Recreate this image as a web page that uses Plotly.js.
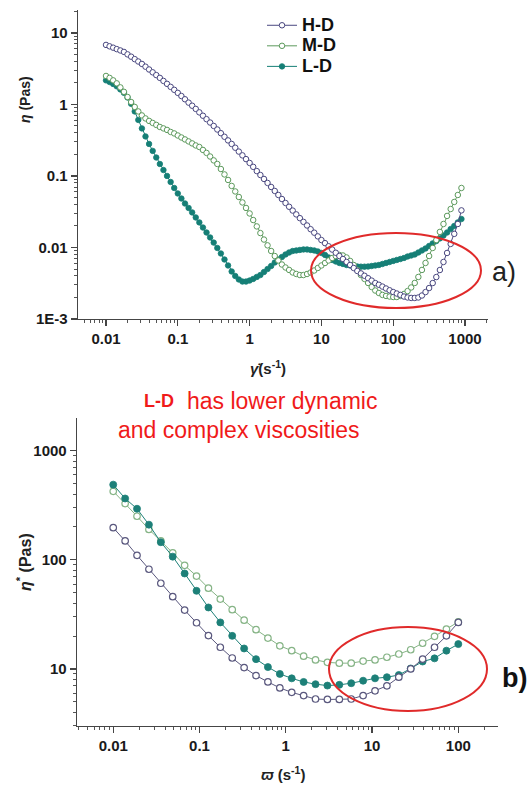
<!DOCTYPE html>
<html>
<head>
<meta charset="utf-8">
<script src="https://cdn.plot.ly/plotly-3.0.1.min.js"></script>
<style>html,body{margin:0;padding:0;background:#fff;}#chart{width:527px;height:785px;}</style>
</head>
<body>
<div id="chart"></div>
<script>
// ---------- Panel a) steady shear viscosity ----------
const shearRate = [0.01,0.01122,0.01259,0.01413,0.01585,0.01778,0.01995,0.02239,0.02512,0.02818,
0.03162,0.03548,0.03981,0.04467,0.05012,0.05623,0.0631,0.07079,0.07943,0.08913,
0.1,0.1122,0.1259,0.1413,0.1585,0.1778,0.1995,0.2239,0.2512,0.2818,
0.3162,0.3548,0.3981,0.4467,0.5012,0.5623,0.631,0.7079,0.7943,0.8913,
1,1.122,1.259,1.413,1.585,1.778,1.995,2.239,2.512,2.818,
3.162,3.548,3.981,4.467,5.012,5.623,6.31,7.079,7.943,8.913,
10,11.22,12.59,14.13,15.85,17.78,19.95,22.39,25.12,28.18,
31.62,35.48,39.81,44.67,50.12,56.23,63.1,70.79,79.43,89.13,
100,112.2,125.9,141.3,158.5,177.8,199.5,223.9,251.2,281.8,
316.2,354.8,398.1,446.7,501.2,562.3,631,707.9,794.3,891.3];

const etaHD = [6.79,6.49,6.21,5.93,5.68,5.42,5.01,4.65,4.30,3.98,
3.68,3.37,3.08,2.81,2.57,2.35,2.13,1.94,1.76,1.60,
1.45,1.31,1.18,1.06,0.959,0.865,0.774,0.695,0.622,0.558,
0.500,0.446,0.396,0.353,0.314,0.280,0.248,0.219,0.194,0.172,
0.152,0.134,0.117,0.103,0.0908,0.0798,0.0701,0.0617,0.0542,0.0476,
0.0419,0.0371,0.0328,0.0290,0.0257,0.0228,0.0203,0.0180,0.0161,0.0143,
0.0127,0.0115,0.0104,0.00935,0.00843,0.00760,0.00690,0.00627,0.00569,0.00516,
0.00469,0.00434,0.00402,0.00372,0.00344,0.00318,0.00301,0.00284,0.00267,0.00252,
0.00238,0.00227,0.00217,0.00206,0.00200,0.00197,0.00197,0.00200,0.00213,0.00238,
0.00271,0.00318,0.00386,0.00484,0.00627,0.00838,0.0112,0.0155,0.0213,0.0330];

const etaMD = [2.50,2.35,2.17,1.97,1.73,1.50,1.27,1.08,0.923,0.798,
0.702,0.637,0.588,0.551,0.517,0.484,0.462,0.440,0.412,0.393,
0.368,0.345,0.324,0.304,0.285,0.267,0.254,0.231,0.210,0.187,
0.165,0.147,0.125,0.105,0.0879,0.0725,0.0607,0.0508,0.0426,0.0357,
0.0299,0.0242,0.0197,0.0159,0.0129,0.0107,0.00893,0.00760,0.00658,0.00578,
0.00525,0.00485,0.00447,0.00426,0.00412,0.00412,0.00426,0.00447,0.00477,0.00517,
0.00560,0.00607,0.00658,0.00713,0.00760,0.00786,0.00773,0.00725,0.00648,0.00569,
0.00485,0.00412,0.00363,0.00319,0.00280,0.00250,0.00231,0.00217,0.00210,0.00206,
0.00203,0.00203,0.00210,0.00224,0.00246,0.00276,0.00319,0.00387,0.00485,0.00607,
0.00760,0.00984,0.0127,0.0165,0.0213,0.0276,0.0345,0.0433,0.0542,0.0679];

const etaLD = [2.17,2.06,1.93,1.79,1.62,1.45,1.25,1.02,0.798,0.607,
0.462,0.357,0.280,0.224,0.181,0.147,0.121,0.100,0.0824,0.0679,
0.0569,0.0484,0.0412,0.0357,0.0309,0.0263,0.0224,0.0190,0.0162,0.0138,
0.0117,0.00984,0.00824,0.00679,0.00560,0.00462,0.00399,0.00357,0.00334,0.00334,
0.00345,0.00363,0.00387,0.00412,0.00454,0.00500,0.00551,0.00617,0.00679,0.00736,
0.00798,0.00851,0.00893,0.00908,0.00923,0.00938,0.00938,0.00923,0.00908,0.00879,
0.00838,0.00786,0.00725,0.00669,0.00637,0.00607,0.00588,0.00569,0.00560,0.00551,
0.00542,0.00539,0.00539,0.00542,0.00551,0.00560,0.00569,0.00588,0.00607,0.00627,
0.00648,0.00669,0.00690,0.00713,0.00748,0.00773,0.00798,0.00851,0.00908,0.00968,
0.0105,0.0114,0.0123,0.0134,0.0147,0.0162,0.0181,0.0200,0.0224,0.0250];

const topXTickVals = [0.01,0.1,1,10,100,1000];
const topXTickText = ["0.01","0.1","1","10","100","1000"];
const topYTickVals = [0.001,0.01,0.1,1,10];
const topYTickText = ["1E-3","0.01","0.1","1","10"];

// ---------- Panel b) complex viscosity ----------
const angFreq = [0.01,0.01374,0.01887,0.02593,0.03562,0.04894,0.06723,0.09237,0.1269,0.1743,
0.2395,0.329,0.452,0.621,0.8532,1.172,1.61,2.212,3.039,4.175,
5.736,7.88,10.83,14.87,20.43,28.07,38.57,52.98,72.79,100];

const cplxHD = [197,149,110,82,61,46,34.6,26.5,20.2,15.8,
12.6,10.3,8.7,7.6,6.7,6.1,5.7,5.3,5.25,5.25,
5.3,5.7,6.3,7.0,8.4,10,12.3,15.8,20.1,26.7];

const cplxMD = [425,328,251,190,149,116,89,71,55,43.7,
34.9,28,22.9,19.2,16.3,14.7,13.1,12.1,11.5,11.3,
11.3,11.8,12.1,12.8,13.7,15.0,17.2,19.9,23.2,27.0];

const cplxLD = [489,365,294,210,145,107,75,52,36.6,26.7,
20.1,15.4,12.3,10.4,9.0,8.2,7.6,7.25,7.04,7.15,
7.4,7.8,8.2,8.4,8.8,10.1,11.7,12.5,14.7,16.9];

const botXTickVals = [0.01,0.1,1,10,100];
const botXTickText = ["0.01","0.1","1","10","100"];
const botYTickVals = [10,100,1000];
const botYTickText = ["10","100","1000"];

const seriesNames = ["H-D","M-D","L-D"];

// ---------- styling ----------
const W = 527, H = 785;
const FONT = "Arial, 'Liberation Sans', sans-serif";
const cHD = "#4a4880", cMD = "#5d9a5d", cLD = "#157f76";
const cHDb = "#5a587e", cMDb = "#86b486", cLDb = "#1d8078";
const px = v => v / W, py = v => 1 - v / H;
const legName = s => '<span style="font-size:18px">' + s + '</span>';

const traces = [
  {x: shearRate, y: etaLD, name: legName(seriesNames[2]), xaxis: "x", yaxis: "y", mode: "lines+markers",
   line: {color: cLD, width: 1}, marker: {symbol: "circle", size: 5.5, color: cLD, line: {color: cLD, width: 0.8}}},
  {x: shearRate, y: etaMD, name: legName(seriesNames[1]), xaxis: "x", yaxis: "y", mode: "lines+markers",
   line: {color: cMD, width: 1}, marker: {symbol: "circle", size: 5.5, color: "#ffffff", line: {color: cMD, width: 1}}},
  {x: shearRate, y: etaHD, name: legName(seriesNames[0]), xaxis: "x", yaxis: "y", mode: "lines+markers",
   line: {color: cHD, width: 1}, marker: {symbol: "circle", size: 5.5, color: "#ffffff", line: {color: cHD, width: 1}}},

  {x: angFreq, y: cplxMD, name: seriesNames[1], xaxis: "x2", yaxis: "y2", mode: "lines+markers", showlegend: false,
   line: {color: cMDb, width: 1}, marker: {symbol: "circle", size: 6.5, color: "#ffffff", line: {color: cMDb, width: 1.2}}},
  {x: angFreq, y: cplxLD, name: seriesNames[2], xaxis: "x2", yaxis: "y2", mode: "lines+markers", showlegend: false,
   line: {color: cLDb, width: 1}, marker: {symbol: "circle", size: 7, color: cLDb, line: {color: cLDb, width: 0.8}}},
  {x: angFreq, y: cplxHD, name: seriesNames[0], xaxis: "x2", yaxis: "y2", mode: "lines+markers", showlegend: false,
   line: {color: cHDb, width: 1}, marker: {symbol: "circle", size: 6.5, color: "#ffffff", line: {color: cHDb, width: 1.2}}}
];

function axisBase(extra) {
  return Object.assign({
    type: "log", showgrid: false, zeroline: false, showline: true,
    linecolor: "#454545", linewidth: 1.3, ticks: "outside", ticklen: 6, tickwidth: 1.3, tickcolor: "#454545",
    tickmode: "array", tickfont: {family: FONT, size: 15, color: "#1a1a1a", weight: "bold"},
    minor: {ticks: "outside", ticklen: 3, tickwidth: 1, tickcolor: "#555", dtick: "D1", showgrid: false}
  }, extra);
}

function note(text, x, y, size, color, weight, extra) {
  return Object.assign({text: text, x: px(x), y: py(y), xref: "paper", yref: "paper",
    xanchor: "center", yanchor: "middle", showarrow: false,
    font: {family: FONT, size: size, color: color, weight: weight}}, extra || {});
}

const layout = {
  width: W, height: H, margin: {l: 0, r: 0, t: 0, b: 0},
  paper_bgcolor: "#ffffff", plot_bgcolor: "rgba(0,0,0,0)",
  font: {family: FONT},
  showlegend: true,
  legend: {x: px(262), y: py(10), xanchor: "left", yanchor: "top", bgcolor: "rgba(0,0,0,0)",
           traceorder: "reversed", itemwidth: 30, tracegroupgap: 0,
           font: {family: FONT, size: 13.5, color: "#111", weight: "bold"}},
  xaxis: axisBase({domain: [px(78), px(488)], range: [-2.39, 3.32], anchor: "y",
                   tickvals: topXTickVals, ticktext: topXTickText}),
  yaxis: axisBase({domain: [py(319), py(10)], range: [-3, 1.32], anchor: "x",
                   tickvals: topYTickVals, ticktext: topYTickText}),
  xaxis2: axisBase({domain: [px(77), px(498)], range: [-2.42, 2.46], anchor: "y2",
                    tickvals: botXTickVals, ticktext: botXTickText}),
  yaxis2: axisBase({domain: [py(726), py(418)], range: [0.477, 3.30], anchor: "x2",
                    tickvals: botYTickVals, ticktext: botYTickText}),
  shapes: [
    {type: "circle", xref: "paper", yref: "paper", x0: px(311), x1: px(481), y0: py(308), y1: py(233),
     line: {color: "#e02a2a", width: 2}},
    {type: "circle", xref: "paper", yref: "paper", x0: px(329), x1: px(487), y0: py(711), y1: py(627),
     line: {color: "#e02a2a", width: 2}}
  ],
  annotations: [
    note("<i>η</i> (Pas)", 25, 100, 14, "#222", "bold", {textangle: -90}),
    note("<i>γ̇</i>(s<sup>-1</sup>)", 268, 367, 15, "#222", "bold"),
    note("a)", 504, 272, 27, "#222", "normal"),
    note("L-D", 159, 401, 18, "#f01a1a", "bold"),
    note("has lower dynamic", 185, 401, 23, "#f01a1a", "normal", {xanchor: "left"}),
    note("and complex viscosities", 116, 430, 23, "#f01a1a", "normal", {xanchor: "left"}),
    note("<i>η</i><sup>*</sup> (Pas)", 24, 562, 16, "#222", "bold", {textangle: -90}),
    note("<i>ϖ</i> (s<sup>-1</sup>)", 283, 773, 15, "#222", "bold"),
    note("b)", 514, 678, 27, "#111", "bold")
  ]
};

Plotly.newPlot("chart", traces, layout, {displayModeBar: false, staticPlot: true});
</script>
</body>
</html>
